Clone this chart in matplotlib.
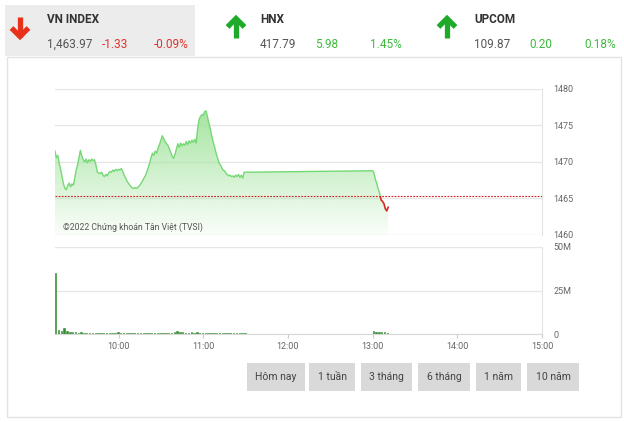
import numpy as np
import matplotlib
matplotlib.use("Agg")
import matplotlib.pyplot as plt
from matplotlib import font_manager
from matplotlib.patches import Rectangle

# ---------------- data ----------------
price_times = ["9:15","9:16","9:17","9:18","9:19","9:20","9:21","9:22","9:23","9:24",
               "9:25","9:26","9:27","9:28","9:29","9:30","9:31","9:32","9:33","9:34",
               "9:35","9:36","9:37","9:38","9:39","9:40","9:41","9:42","9:43","9:44",
               "9:45","9:46","9:47","9:48","9:49","9:50","9:51","9:52","9:53","9:54",
               "9:55","9:56","9:57","9:58","9:59","10:00","10:01","10:02","10:03","10:04",
               "10:05","10:06","10:07","10:08","10:09","10:10","10:11","10:12","10:13","10:14",
               "10:15","10:16","10:17","10:18","10:19","10:20","10:21","10:22","10:23","10:24",
               "10:25","10:26","10:27","10:28","10:29","10:30","10:31","10:32","10:33","10:34",
               "10:35","10:36","10:37","10:38","10:39","10:40","10:41","10:42","10:43","10:44",
               "10:45","10:46","10:47","10:48","10:49","10:50","10:51","10:52","10:53","10:54",
               "10:55","10:56","10:57","10:58","10:59","11:00","11:01","11:02","11:03","11:04",
               "11:05","11:06","11:07","11:08","11:09","11:10","11:11","11:12","11:13","11:14",
               "11:15","11:16","11:17","11:18","11:19","11:20","11:21","11:22","11:23","11:24",
               "11:25","11:26","11:27","11:28","11:29","11:30",
               "13:00","13:01","13:02","13:03","13:04","13:05","13:06","13:07","13:08","13:09",
               "13:10","13:11"]
prices = [1471.5,1470.6,1470.9,1469.8,1469.0,1468.0,1467.0,1466.4,1466.2,1466.8,
          1467.1,1466.6,1467.0,1466.8,1467.8,1468.9,1469.6,1470.6,1471.6,1470.8,
          1470.3,1470.0,1470.4,1469.9,1470.3,1470.1,1470.4,1470.2,1470.3,1469.6,
          1468.6,1468.5,1468.4,1468.6,1468.2,1468.0,1468.3,1468.1,1468.5,1468.7,
          1468.6,1468.9,1468.7,1469.0,1468.8,1469.0,1468.9,1469.1,1468.7,1468.2,
          1467.8,1467.4,1467.1,1466.8,1466.6,1466.4,1466.4,1466.5,1466.4,1466.6,
          1466.8,1467.1,1467.4,1467.8,1468.1,1468.6,1469.2,1469.8,1470.6,1471.2,
          1470.9,1471.5,1471.2,1471.9,1472.4,1473.0,1473.6,1473.2,1472.8,1472.5,
          1472.3,1471.8,1471.3,1470.8,1470.5,1471.0,1471.8,1472.5,1472.0,1472.6,
          1472.2,1472.5,1472.3,1472.8,1472.4,1472.9,1472.6,1473.0,1472.7,1473.1,
          1472.6,1474.5,1475.8,1476.2,1476.5,1476.4,1476.9,1477.0,1476.2,1475.3,
          1474.6,1473.6,1472.8,1472.1,1471.3,1470.6,1470.0,1469.6,1469.3,1468.9,
          1468.8,1468.5,1468.3,1468.1,1468.2,1468.0,1468.1,1467.9,1468.2,1468.0,
          1468.3,1467.9,1468.2,1467.8,1468.6,1468.6,
          1468.8,1468.5,1467.6,1467.0,1466.3,1465.7,1464.8,1464.6,1464.3,1463.6,
          1463.3,1463.8]
ref_price = 1465.30

vol_morning_start = "9:15"
vol_morning = [35.0, 2.4, 1.6, 3.6, 1.5, 1.1, 0.9, 1.0, 0.8, 0.9, 0.7, 0.8, 0.6, 0.7,
               0.6, 0.8, 0.6, 0.7, 0.6, 0.8, 0.5, 0.7, 0.9, 0.6, 0.5, 0.7, 0.5, 0.6,
               0.8, 0.5, 0.6, 0.7, 0.5, 0.6, 0.8, 0.5, 0.7, 0.6, 0.5, 0.7, 0.6, 0.8,
               1.2, 1.5, 1.3, 1.0, 0.8, 0.7, 0.9, 0.6, 1.1, 0.7, 0.6, 0.8, 0.5, 0.6,
               0.7, 0.5, 0.6, 0.5, 0.4, 0.6, 0.5, 0.4, 0.5, 0.4, 0.4, 0.3]
vol_afternoon_start = "13:00"
vol_afternoon = [1.9, 1.0, 1.1, 0.9, 1.0, 0.8]
vol_step_min = 2

price_ticks = [1460, 1465, 1470, 1475, 1480]
vol_ticks = [0, 25, 50]
vol_tick_labels = ["0", "25M", "50M"]
time_ticks = ["10:00", "11:00", "12:00", "13:00", "14:00", "15:00"]

indices = ["VN INDEX", "HNX", "UPCOM"]
index_values = ["1,463.97", "417.79", "109.87"]
index_changes = ["-1.33", "5.98", "0.20"]
index_pcts = ["-0.09%", "1.45%", "0.18%"]
index_up = [False, True, True]
buttons = ["Hôm nay", "1 tuần", "3 tháng", "6 tháng", "1 năm", "10 năm"]
copyright_text = "©2022 Chứng khoán Tân Việt (TVSI)"

# ---------------- helpers ----------------
def hrs(s):
    h, m = s.split(":")
    return int(h) + int(m) / 60.0

names = {f.name for f in font_manager.fontManager.ttflist}
FONT = "Liberation Sans Narrow" if "Liberation Sans Narrow" in names else "Roboto"
plt.rcParams["font.family"] = [FONT, "DejaVu Sans"]

W, H = 624, 422
fig = plt.figure(figsize=(W / 100, H / 100), dpi=100)
fig.patch.set_facecolor("white")

def px_axes(x0, y0, x1, y1, **kw):
    return fig.add_axes([x0 / W, 1 - y1 / H, (x1 - x0) / W, (y1 - y0) / H], **kw)

# background / decoration layer in pixel coords
bg = px_axes(0, 0, W, H)
bg.set_xlim(0, W); bg.set_ylim(H, 0); bg.axis("off")
bg.set_zorder(0)

# header box
bg.add_patch(Rectangle((5, 5), 190, 51, facecolor="#ececec", edgecolor="none"))
# panel border
bg.add_patch(Rectangle((6.5, 56.5), 614, 360, facecolor="none", edgecolor="#e3e3e3", lw=1))

RED = "#e8311a"
GREEN_ARROW = "#1faa2a"
GREEN_TXT = "#3dbb3d"
RED_TXT = "#e0322d"

arrow_x = [20, 236, 447]
name_x = [47, 260, 474]
for i in range(3):
    ax0 = arrow_x[i]
    if index_up[i]:
        col = GREEN_ARROW
        bg.plot([ax0, ax0], [38, 20], color=col, lw=3.8, solid_capstyle="butt")
        bg.plot([ax0 - 8.5, ax0, ax0 + 8.5], [27, 18.5, 27], color=col, lw=3.8,
                solid_capstyle="butt", solid_joinstyle="miter")
    else:
        col = RED
        bg.plot([ax0, ax0], [17, 37], color=col, lw=3.8, solid_capstyle="butt")
        bg.plot([ax0 - 8.5, ax0, ax0 + 8.5], [28, 36.5, 28], color=col, lw=3.8,
                solid_capstyle="butt", solid_joinstyle="miter")
    nx = name_x[i]
    ccol = GREEN_TXT if index_up[i] else RED_TXT
    bg.text(nx, 19.5, indices[i], fontsize=8.5, fontweight="bold", color="#333333",
            va="center", ha="left")
    bg.text(nx, 44, index_values[i], fontsize=8.5, color="#555555", va="center", ha="left")
    bg.text(nx + 55, 44, index_changes[i], fontsize=8.5, color=ccol, va="center", ha="left")
    bg.text(nx + 142, 44, index_pcts[i], fontsize=8.5, color=ccol, va="center", ha="right")

# buttons
btn_x = [(247, 305), (309, 355), (361, 412), (418, 470), (476, 521), (527, 579)]
for (x0, x1), lab in zip(btn_x, buttons):
    bg.add_patch(Rectangle((x0, 363), x1 - x0, 28, facecolor="#d9d9d9", edgecolor="none"))
    bg.text((x0 + x1) / 2, 377.5, lab, fontsize=7.5, color="#444444", ha="center", va="center")

# ---------------- price chart ----------------
t = np.array([hrs(s) for s in price_times])
p = np.array(prices)
xmin, xmax = hrs("9:15"), hrs("15:00")

axp = px_axes(55, 89, 542, 235)
axp.set_zorder(2)
axp.patch.set_alpha(0)
axp.set_xlim(xmin, xmax)
axp.set_ylim(1460, 1480)
for s in ["top", "left", "bottom"]:
    axp.spines[s].set_visible(False)
axp.spines["right"].set_color("#e3e3e3")
axp.yaxis.tick_right()
axp.set_yticks(price_ticks)
axp.set_yticklabels([str(v) for v in price_ticks])
axp.tick_params(axis="y", length=0, pad=8, labelsize=6.5, labelcolor="#666666")
axp.set_xticks([])
axp.grid(axis="y", color="#e6e6e6", lw=1)
axp.set_axisbelow(True)

poly = axp.fill_between(t, p, 1460, facecolor="none", edgecolor="none")
grad = np.zeros((256, 1, 4))
base = matplotlib.colors.to_rgb("#9fe39a")
grad[:, 0, 0:3] = base
grad[:, 0, 3] = np.linspace(0.95, 0.05, 256)
im = axp.imshow(grad, extent=[t[0], t[-1], 1460, 1477.5], origin="upper", aspect="auto",
                interpolation="bilinear", zorder=1)
im.set_clip_path(poly.get_paths()[0], transform=axp.transData)

l_up, = axp.plot(t, p, color="#74d974", lw=1.0, zorder=3)
l_dn, = axp.plot(t, p, color="#d42a20", lw=1.2, zorder=3)
clip_up = Rectangle((xmin, ref_price), xmax - xmin, 1480 - ref_price, transform=axp.transData)
clip_dn = Rectangle((xmin, 1455), xmax - xmin, ref_price - 1455, transform=axp.transData)
l_up.set_clip_path(clip_up)
l_dn.set_clip_path(clip_dn)
axp.axhline(ref_price, color="#cc2222", lw=0.8, ls=(0, (1.6, 1.2)), zorder=2.5)

axp.text(hrs("9:21"), 1460.4, copyright_text, fontsize=6.2, color="#555555",
         ha="left", va="bottom", zorder=4)

# ---------------- volume chart ----------------
axv = px_axes(55, 247, 542, 334)
axv.set_zorder(2)
axv.patch.set_alpha(0)
axv.set_xlim(xmin, xmax)
axv.set_ylim(0, 50)
for s in ["top", "left"]:
    axv.spines[s].set_visible(False)
axv.spines["right"].set_color("#e3e3e3")
axv.spines["bottom"].set_color("#d8d8d8")
axv.yaxis.tick_right()
axv.set_yticks(vol_ticks)
axv.set_yticklabels(vol_tick_labels)
axv.tick_params(axis="y", length=0, pad=8, labelsize=6.5, labelcolor="#666666")
axv.set_xticks([hrs(s) for s in time_ticks])
axv.set_xticklabels(time_ticks)
axv.tick_params(axis="x", length=3, color="#cccccc", pad=3, labelsize=6.5, labelcolor="#666666")
axv.grid(axis="y", color="#e6e6e6", lw=1)
axv.set_axisbelow(True)

step = vol_step_min / 60.0
tm = hrs(vol_morning_start) + step * np.arange(len(vol_morning))
ta = hrs(vol_afternoon_start) + step * np.arange(len(vol_afternoon))
bw = step * 0.5
axv.bar(tm, vol_morning, width=bw, align="edge", color="#2e8b2e", edgecolor="#2e8b2e", lw=0.4)
axv.bar(ta, vol_afternoon, width=bw, align="edge", color="#2e8b2e", edgecolor="#2e8b2e", lw=0.4)

fig.savefig("out.png", dpi=100, facecolor="white")
